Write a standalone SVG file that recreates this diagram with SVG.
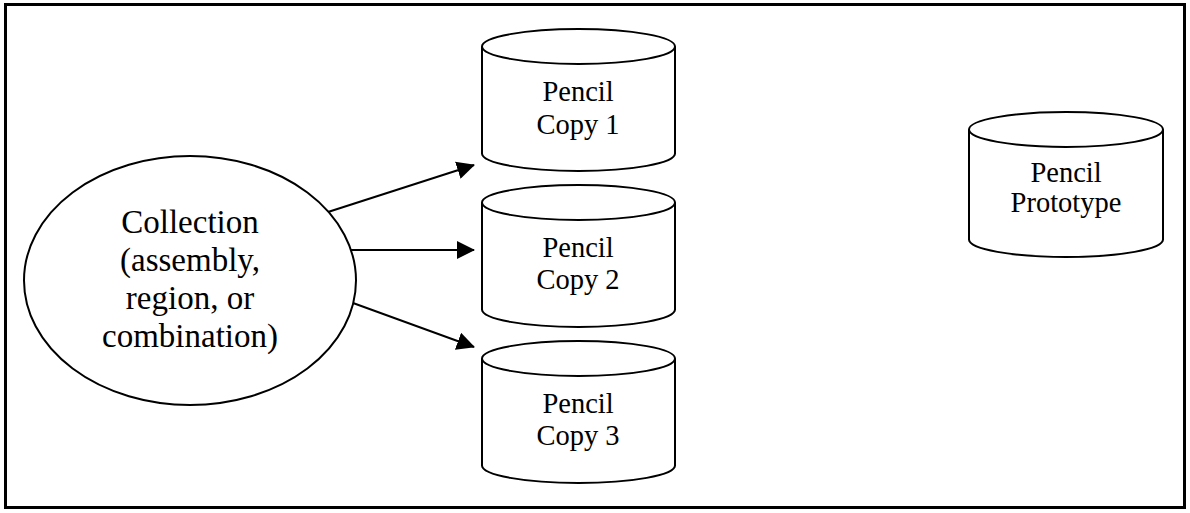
<svg xmlns="http://www.w3.org/2000/svg" width="1190" height="513" viewBox="0 0 1190 513">
<style>
.shape{fill:#fff;stroke:#000;stroke-width:2}
.lbl{font-family:"Liberation Serif","Times New Roman",serif;font-size:28.5px;fill:#000;text-anchor:middle}
.lbl2{font-family:"Liberation Serif","Times New Roman",serif;font-size:33px;fill:#000;text-anchor:middle}
.conn{stroke:#000;stroke-width:2;fill:none;marker-end:url(#arr)}
</style>
<defs>
<marker id="arr" markerUnits="userSpaceOnUse" markerWidth="18" markerHeight="18" refX="17" refY="9" orient="auto">
<path d="M0,0 L18,9 L0,18 z" fill="#000"/>
</marker>
<g id="cyl">
<path class="shape" d="M-96.5,17.5 L-96.5,124.5 A96.5,17.5 0 0 0 96.5,124.5 L96.5,17.5"/>
<ellipse class="shape" cx="0" cy="17.5" rx="96.5" ry="17.5"/>
</g>
</defs>
<rect x="0" y="0" width="1190" height="513" fill="#fff"/>
<rect x="5.5" y="4.5" width="1179" height="503" fill="none" stroke="#000" stroke-width="3"/>
<g id="collection">
<ellipse class="shape" cx="190" cy="280.5" rx="166" ry="124.5"/>
<text class="lbl2" x="190" y="233">Collection</text>
<text class="lbl2" x="190" y="271">(assembly,</text>
<text class="lbl2" x="190" y="309">region, or</text>
<text class="lbl2" x="190" y="347">combination)</text>
</g>
<g id="copy1">
<use href="#cyl" x="578.5" y="29"/>
<text class="lbl" x="578" y="101">Pencil</text>
<text class="lbl" x="578" y="134">Copy 1</text>
</g>
<g id="copy2">
<use href="#cyl" x="578.5" y="185"/>
<text class="lbl" x="578" y="257">Pencil</text>
<text class="lbl" x="578" y="289">Copy 2</text>
</g>
<g id="copy3">
<use href="#cyl" x="578.5" y="341"/>
<text class="lbl" x="578" y="413">Pencil</text>
<text class="lbl" x="578" y="445">Copy 3</text>
</g>
<g id="prototype">
<path class="shape" d="M969,129.5 L969,239.5 A97,17.5 0 0 0 1163,239.5 L1163,129.5"/>
<ellipse class="shape" cx="1066" cy="129.5" rx="97" ry="17.5"/>
<text class="lbl" x="1066" y="182">Pencil</text>
<text class="lbl" x="1066" y="212">Prototype</text>
</g>
<g id="connectors">
<line class="conn" x1="328" y1="212" x2="474" y2="165"/>
<line class="conn" x1="350" y1="250" x2="474" y2="250"/>
<line class="conn" x1="353" y1="303" x2="474" y2="347"/>
</g>
</svg>
